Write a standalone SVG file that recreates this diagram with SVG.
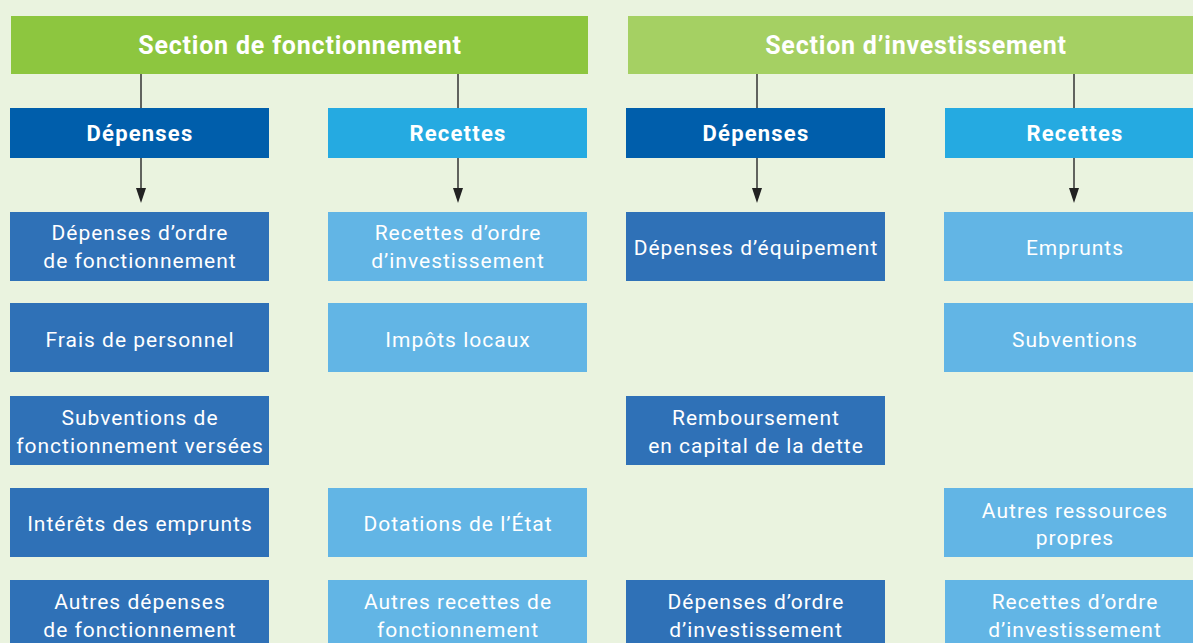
<svg xmlns="http://www.w3.org/2000/svg" width="1193" height="643" viewBox="0 0 1193 643">
  <style>
    .hdr1 { fill: #8dc63f; }
    .hdr2 { fill: #a5d063; }
    .dep { fill: #005eab; }
    .rec { fill: #25aae1; }
    .item-d { fill: #2f71b7; }
    .item-r { fill: #62b5e5; }
    text { font-family: Roboto, "Liberation Sans", sans-serif; fill: #ffffff; text-anchor: middle; }
    .t-hdr { font-size: 25px; font-weight: bold; letter-spacing: 0.8px; }
    .t-sub { font-size: 22px; font-weight: bold; letter-spacing: 1.2px; }
    .t-item { font-size: 21px; letter-spacing: 1px; }
    .conn { stroke: #333333; stroke-width: 1.5; fill: none; }
    .head { fill: #222222; }
  </style>
  <rect width="1193" height="643" fill="#eaf3df"/>

  <!-- connectors -->
  <g id="connectors">
    <line class="conn" x1="141" y1="74" x2="141" y2="108"/>
    <line class="conn" x1="458" y1="74" x2="458" y2="108"/>
    <line class="conn" x1="757" y1="74" x2="757" y2="108"/>
    <line class="conn" x1="1074" y1="74" x2="1074" y2="108"/>
    <line class="conn" x1="141" y1="158" x2="141" y2="190"/>
    <line class="conn" x1="458" y1="158" x2="458" y2="190"/>
    <line class="conn" x1="757" y1="158" x2="757" y2="190"/>
    <line class="conn" x1="1074" y1="158" x2="1074" y2="190"/>
    <path class="head" d="M136,188 L146,188 L141,203 Z"/>
    <path class="head" d="M453,188 L463,188 L458,203 Z"/>
    <path class="head" d="M752,188 L762,188 L757,203 Z"/>
    <path class="head" d="M1069,188 L1079,188 L1074,203 Z"/>
  </g>

  <!-- section headers -->
  <g id="section-fonctionnement">
    <rect class="hdr1" x="11" y="16" width="577" height="58"/>
    <text class="t-hdr" x="300" y="54">Section de fonctionnement</text>
  </g>
  <g id="section-investissement">
    <rect class="hdr2" x="628" y="16" width="565" height="58"/>
    <text class="t-hdr" x="916" y="54">Section d’investissement</text>
  </g>

  <!-- sub headers -->
  <g id="fonct-depenses">
    <rect class="dep" x="10" y="108" width="259" height="50"/>
    <text class="t-sub" x="140" y="141">Dépenses</text>
  </g>
  <g id="fonct-recettes">
    <rect class="rec" x="328" y="108" width="259" height="50"/>
    <text class="t-sub" x="458" y="141">Recettes</text>
  </g>
  <g id="invest-depenses">
    <rect class="dep" x="626" y="108" width="259" height="50"/>
    <text class="t-sub" x="756" y="141">Dépenses</text>
  </g>
  <g id="invest-recettes">
    <rect class="rec" x="945" y="108" width="248" height="50"/>
    <text class="t-sub" x="1075" y="141">Recettes</text>
  </g>

  <!-- fonctionnement : dépenses -->
  <g id="fd1">
    <rect class="item-d" x="10" y="212" width="259" height="69"/>
    <text class="t-item" x="140" y="240">Dépenses d’ordre</text>
    <text class="t-item" x="140" y="268">de fonctionnement</text>
  </g>
  <g id="fd2">
    <rect class="item-d" x="10" y="303" width="259" height="69"/>
    <text class="t-item" x="140" y="347">Frais de personnel</text>
  </g>
  <g id="fd3">
    <rect class="item-d" x="10" y="396" width="259" height="69"/>
    <text class="t-item" x="140" y="425">Subventions de</text>
    <text class="t-item" x="140" y="453">fonctionnement versées</text>
  </g>
  <g id="fd4">
    <rect class="item-d" x="10" y="488" width="259" height="69"/>
    <text class="t-item" x="140" y="531">Intérêts des emprunts</text>
  </g>
  <g id="fd5">
    <rect class="item-d" x="10" y="580" width="259" height="69"/>
    <text class="t-item" x="140" y="609">Autres dépenses</text>
    <text class="t-item" x="140" y="637">de fonctionnement</text>
  </g>

  <!-- fonctionnement : recettes -->
  <g id="fr1">
    <rect class="item-r" x="328" y="212" width="259" height="69"/>
    <text class="t-item" x="458" y="240">Recettes d’ordre</text>
    <text class="t-item" x="458" y="268">d’investissement</text>
  </g>
  <g id="fr2">
    <rect class="item-r" x="328" y="303" width="259" height="69"/>
    <text class="t-item" x="458" y="347">Impôts locaux</text>
  </g>
  <g id="fr3">
    <rect class="item-r" x="328" y="488" width="259" height="69"/>
    <text class="t-item" x="458" y="531">Dotations de l’État</text>
  </g>
  <g id="fr4">
    <rect class="item-r" x="328" y="580" width="259" height="69"/>
    <text class="t-item" x="458" y="609">Autres recettes de</text>
    <text class="t-item" x="458" y="637">fonctionnement</text>
  </g>

  <!-- investissement : dépenses -->
  <g id="id1">
    <rect class="item-d" x="626" y="212" width="259" height="69"/>
    <text class="t-item" x="756" y="255">Dépenses d’équipement</text>
  </g>
  <g id="id2">
    <rect class="item-d" x="626" y="396" width="259" height="69"/>
    <text class="t-item" x="756" y="425">Remboursement</text>
    <text class="t-item" x="756" y="453">en capital de la dette</text>
  </g>
  <g id="id3">
    <rect class="item-d" x="626" y="580" width="259" height="69"/>
    <text class="t-item" x="756" y="609">Dépenses d’ordre</text>
    <text class="t-item" x="756" y="637">d’investissement</text>
  </g>

  <!-- investissement : recettes -->
  <g id="ir1">
    <rect class="item-r" x="944" y="212" width="249" height="69"/>
    <text class="t-item" x="1075" y="255">Emprunts</text>
  </g>
  <g id="ir2">
    <rect class="item-r" x="944" y="303" width="249" height="69"/>
    <text class="t-item" x="1075" y="347">Subventions</text>
  </g>
  <g id="ir3">
    <rect class="item-r" x="944" y="488" width="249" height="69"/>
    <text class="t-item" x="1075" y="518">Autres ressources</text>
    <text class="t-item" x="1075" y="545">propres</text>
  </g>
  <g id="ir4">
    <rect class="item-r" x="945" y="580" width="248" height="69"/>
    <text class="t-item" x="1075" y="609">Recettes d’ordre</text>
    <text class="t-item" x="1075" y="637">d’investissement</text>
  </g>
</svg>
